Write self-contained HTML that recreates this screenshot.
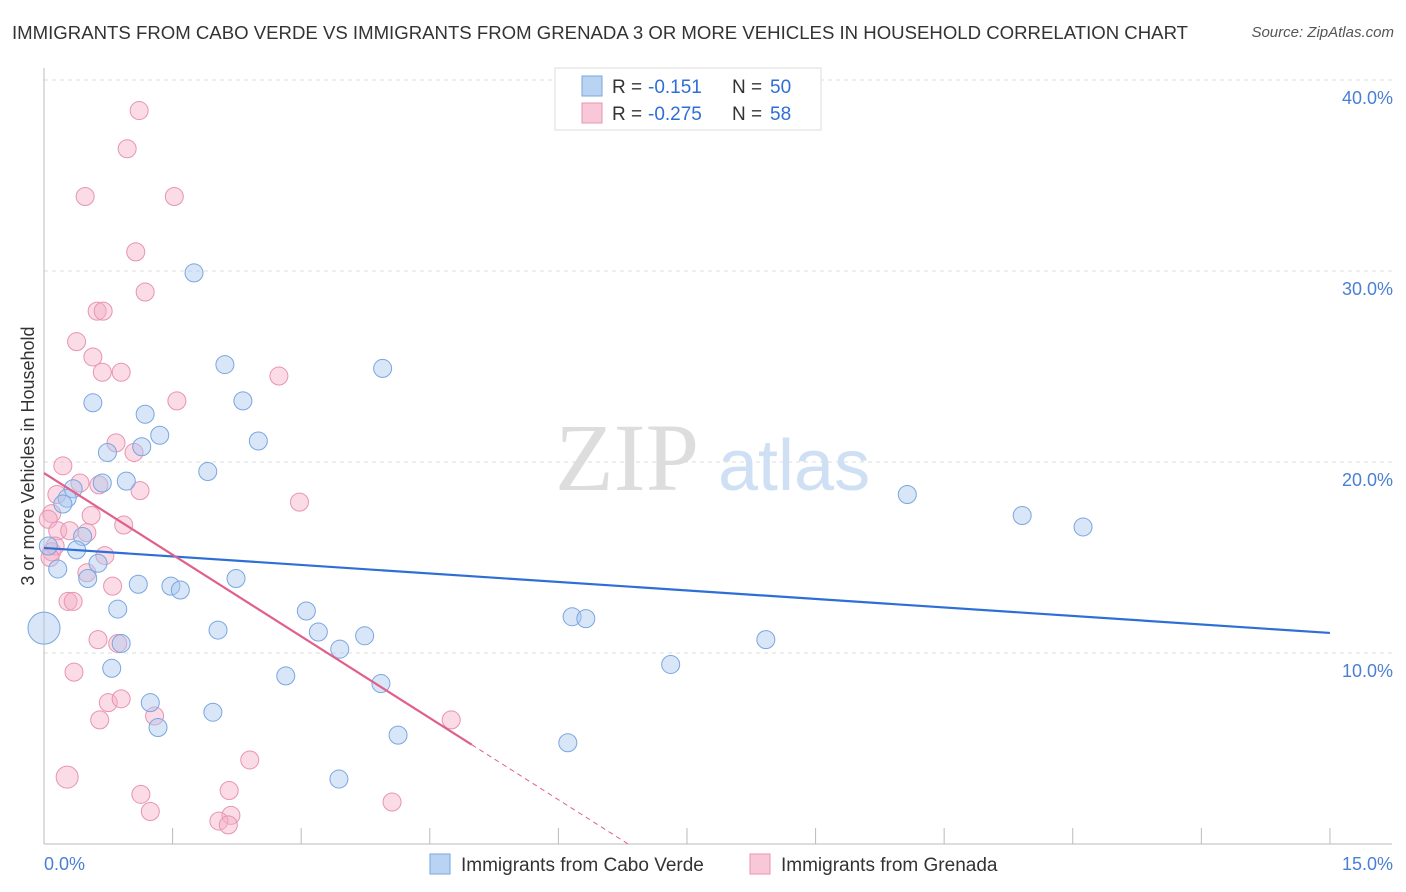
<!DOCTYPE html>
<html><head><meta charset="utf-8"><style>
body{margin:0;background:#fff;font-family:"Liberation Sans",sans-serif;}
#wrap{position:relative;width:1406px;height:892px;overflow:hidden;}
.title{position:absolute;left:12px;top:22px;font-size:18.6px;color:#333;}
.src{position:absolute;right:12px;top:24px;font-size:15px;color:#555;font-style:italic;}
</style></head><body>
<div id="wrap">
<div class="title">IMMIGRANTS FROM CABO VERDE VS IMMIGRANTS FROM GRENADA 3 OR MORE VEHICLES IN HOUSEHOLD CORRELATION CHART</div>
<div class="src">Source: ZipAtlas.com</div>
<svg id="svg" width="1406" height="892" style="position:absolute;left:0;top:0"></svg>
</div>
<script>
const blueX=[1.75,2.11,3.95,0.57,2.32,1.18,1.35,2.50,0.74,1.14,1.91,0.96,0.68,0.34,0.27,0.22,0.45,0.38,0.05,0.16,0.63,0.51,1.10,1.48,1.59,2.24,0.86,3.06,6.16,6.32,3.20,2.03,3.74,3.45,0.90,0.79,8.42,7.31,2.82,3.93,1.24,1.97,1.33,4.13,6.11,3.44,10.07,11.41,12.12,0.0];
const blueY=[29.9,25.1,24.9,23.1,23.2,22.5,21.4,21.1,20.5,20.8,19.5,19.0,18.9,18.6,18.1,17.8,16.1,15.4,15.6,14.4,14.7,13.9,13.6,13.5,13.3,13.9,12.3,12.2,11.9,11.8,11.1,11.2,10.9,10.2,10.5,9.2,10.7,9.4,8.8,8.4,7.4,6.9,6.1,5.7,5.3,3.4,18.3,17.2,16.6,11.3];
const blueR=[9,9,9,9,9,9,9,9,9,9,9,9,9,9,9,9,9,9,9,9,9,9,9,9,9,9,9,9,9,9,9,9,9,9,9,9,9,9,9,9,9,9,9,9,9,9,9,9,9,16];
const pinkX=[1.11,0.97,0.48,1.52,1.07,1.18,0.62,0.69,0.38,0.57,0.68,0.90,1.55,2.74,0.84,1.05,0.22,0.42,1.12,2.98,0.15,0.64,0.09,0.55,0.93,0.05,0.16,0.30,0.50,0.09,0.13,0.71,0.50,0.80,0.28,0.34,0.63,0.86,0.35,0.75,0.90,0.65,1.29,4.75,2.40,0.27,1.13,2.16,4.06,1.24,2.18,2.04,2.15,0.07];
const pinkY=[38.4,36.4,33.9,33.9,31.0,28.9,27.9,27.9,26.3,25.5,24.7,24.7,23.2,24.5,21.0,20.5,19.8,18.9,18.5,17.9,18.3,18.8,17.3,17.2,16.7,17.0,16.4,16.4,16.3,15.3,15.6,15.1,14.2,13.5,12.7,12.7,10.7,10.5,9.0,7.4,7.6,6.5,6.7,6.5,4.4,3.5,2.6,2.8,2.2,1.7,1.5,1.2,1.0,15.0];
const pinkR=pinkX.map((_,i)=>i==45?11:9);
const xTicks=[0,1.5,3,4.5,6,7.5,9,10.5,12,13.5,15];
const yTicks=[10,20,30,40];
const yTickLabels=["10.0%","20.0%","30.0%","40.0%"];
const blueTrend=[15.5,11.05];
const pinkTrend=[19.42,-2.85];
const X=v=>44+v*85.73, Y=v=>844-v*19.1;
const svg=document.getElementById('svg');const NS='http://www.w3.org/2000/svg';
function el(t,a,p){const e=document.createElementNS(NS,t);for(const k in a)e.setAttribute(k,a[k]);(p||svg).appendChild(e);return e;}
yTicks.forEach((t,i)=>{const g=el('line',{x1:44,x2:1392,y1:Y(t),y2:Y(t),stroke:'#ddd','stroke-dasharray':'4,4'});


const tx=el('text',{x:1393,y:Y(t)+24,'text-anchor':'end','font-size':18,fill:'#4a7fd4'});tx.textContent=yTickLabels[i];

});
const ax=el('line',{x1:44,x2:1392,y1:844,y2:844,stroke:'#bbb'});


const ay=el('line',{x1:44,x2:44,y1:68,y2:844,stroke:'#bbb'});


xTicks.forEach(t=>{const l=el('line',{x1:X(t),x2:X(t),y1:828,y2:844,stroke:'#bbb'});

});
[[0,44,'start','0.0%'],[15,1393,'end','15.0%']].forEach(a=>{const t=el('text',{x:a[1],y:870,'text-anchor':a[2],'font-size':18,fill:'#4a7fd4'});t.textContent=a[3];

});
const yt=el('text',{x:34,y:456,'text-anchor':'middle','font-size':18,fill:'#333',transform:'rotate(-90 34 456)'});yt.textContent='3 or more Vehicles in Household';


const wm=el('text',{x:555,y:490,'font-size':96,fill:'#ddd','font-family':'Liberation Serif'});wm.textContent='ZIP';


const wm2=el('text',{x:718,y:490,'font-size':72,fill:'#cfe0f4'});wm2.textContent='atlas';


pinkX.forEach((x,i)=>{const c=el('circle',{cx:X(x),cy:Y(pinkY[i]),r:pinkR[i],fill:'rgba(245,176,200,0.45)',stroke:'#e894b2','stroke-width':1});

});
blueX.forEach((x,i)=>{const c=el('circle',{cx:X(x),cy:Y(blueY[i]),r:blueR[i],fill:'rgba(168,200,240,0.45)',stroke:'#7aa6e0','stroke-width':1});

});
const bl=el('line',{x1:X(0),y1:Y(blueTrend[0]),x2:X(15),y2:Y(blueTrend[1]),stroke:'#2e6fd6','stroke-width':2.2});


const pe=4.99, pz=-pinkTrend[0]/pinkTrend[1];
const pl=el('line',{x1:X(0),y1:Y(pinkTrend[0]),x2:X(pe),y2:Y(pinkTrend[0]+pinkTrend[1]*pe),stroke:'#e0608a','stroke-width':2.2});


const pd=el('line',{x1:X(pe),y1:Y(pinkTrend[0]+pinkTrend[1]*pe),x2:X(pz),y2:Y(0),stroke:'#e0608a','stroke-width':1,'stroke-dasharray':'5,4'});


const lg=el('rect',{x:555,y:68,width:266,height:62,fill:'#fff',stroke:'#ddd'});


[['rgba(168,200,240,0.8)','#7aa6e0','-0.151','50',86],['rgba(245,176,200,0.7)','#e894b2','-0.275','58',113]].forEach(r=>{
const b=el('rect',{x:582,y:r[4]-10,width:20,height:20,fill:r[0],stroke:r[1]});


const t=el('text',{x:612,y:r[4]+7,'font-size':19,fill:'#333'});
t.innerHTML='R = <tspan fill="#2e6fd6" x="648">'+r[2]+'</tspan><tspan x="732">N = </tspan><tspan fill="#2e6fd6" x="770">'+r[3]+'</tspan>';

});
[[430,'rgba(168,200,240,0.8)','#7aa6e0','Immigrants from Cabo Verde','legend-cabo-verde'],[750,'rgba(245,176,200,0.7)','#e894b2','Immigrants from Grenada','legend-grenada']].forEach(r=>{
const b=el('rect',{x:r[0],y:854,width:20,height:20,fill:r[1],stroke:r[2]});


const t=el('text',{x:r[0]+31,y:871,'font-size':19,fill:'#333'});t.textContent=r[3];

});
</script>
</body></html>
